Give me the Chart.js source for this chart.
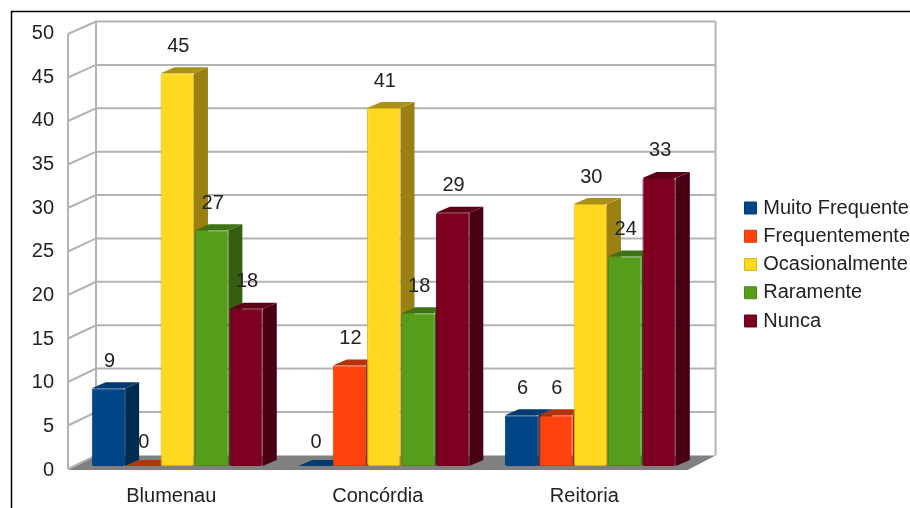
<!DOCTYPE html>
<html>
<head>
<meta charset="utf-8">
<style>
html, body { margin: 0; padding: 0; background: #fff; overflow: hidden; width: 910px; height: 508px; }
canvas { display: block; }
</style>
<script src="https://cdn.jsdelivr.net/npm/chart.js@4/dist/chart.umd.min.js"></script>
</head>
<body>
<canvas id="barChart" width="920" height="508"></canvas>
<script>
const categories = ['Blumenau', 'Concórdia', 'Reitoria'];
const muitoFrequente = [8.9, 0, 5.8];
const frequentemente = [0, 11.5, 5.8];
const ocasionalmente = [45, 41, 30];
const raramente = [27, 17.5, 24];
const nunca = [18, 29, 33];

const seriesNames = ['Muito Frequente', 'Frequentemente', 'Ocasionalmente', 'Raramente', 'Nunca'];
const seriesValues = [muitoFrequente, frequentemente, ocasionalmente, raramente, nunca];
const frontColors = ['#004586', '#ff420e', '#ffd820', '#579d1c', '#7e0021'];
const edgeColors = ['#003a70', '#d63a10', '#d9b41c', '#4a8618', '#6c001c'];
const topColors = ['#003a70', '#b5330a', '#ad9116', '#3f7214', '#5c0018'];
const sideColors = ['#002c52', '#8f2708', '#9a8012', '#345e10', '#4a0013'];

const textColor = '#222222';
const wallColor = '#b3b3b3';
const floorColor = '#808080';

// depth of a bar, and how far the back wall / front edge sit from the bars plane
const barDx = 14, barDy = 6;
const backDx = 22, backDy = 10.6, backShrink = 0.994;
const frontDx = -6, frontDy = -3, frontShrink = 0.9966;

const wallsPlugin = {
    id: 'walls',
    beforeDatasetsDraw(chart) {
        const ctx = chart.ctx;
        const y = chart.scales.y;
        const left = chart.chartArea.left;
        const right = chart.chartArea.right;
        const base = y.getPixelForValue(0);
        const backY = v => base - backDy - (base - y.getPixelForValue(v)) * backShrink;
        const frontY = v => base - frontDy - (base - y.getPixelForValue(v)) * frontShrink;

        // frame round the picture
        ctx.save();
        ctx.strokeStyle = '#000';
        ctx.lineWidth = 1.5;
        ctx.beginPath();
        ctx.moveTo(11.5, 508);
        ctx.lineTo(11.5, 11.5);
        ctx.lineTo(920, 11.5);
        ctx.stroke();

        const x0 = left + frontDx, x1 = left + backDx;
        const x2 = right + backDx, x3 = right + frontDx;

        ctx.fillStyle = floorColor;
        ctx.beginPath();
        ctx.moveTo(x0, frontY(0) + 1);
        ctx.lineTo(x1, backY(0));
        ctx.lineTo(x2, backY(0));
        ctx.lineTo(x3, frontY(0) + 1);
        ctx.closePath();
        ctx.fill();

        ctx.strokeStyle = wallColor;
        ctx.lineWidth = 2;
        y.ticks.forEach(t => {
            ctx.beginPath();
            ctx.moveTo(x0, frontY(t.value));
            ctx.lineTo(x1, backY(t.value));
            if (t.value > 0) ctx.lineTo(x2, backY(t.value));
            ctx.stroke();
        });
        ctx.beginPath();
        ctx.moveTo(x0, frontY(y.max));
        ctx.lineTo(x0, frontY(0));
        ctx.moveTo(x1, backY(y.max));
        ctx.lineTo(x1, backY(0));
        ctx.moveTo(x2, backY(y.max));
        ctx.lineTo(x2, backY(0));
        ctx.stroke();

        // top and side faces, the library draws the fronts over them
        chart.data.datasets.forEach((ds, i) => {
            chart.getDatasetMeta(i).data.forEach(bar => {
                const l = bar.x - bar.width / 2;
                const r = bar.x + bar.width / 2;
                ctx.fillStyle = sideColors[i];
                ctx.beginPath();
                ctx.moveTo(r, bar.y);
                ctx.lineTo(r + barDx, bar.y - barDy);
                ctx.lineTo(r + barDx, bar.base - barDy);
                ctx.lineTo(r, bar.base);
                ctx.closePath();
                ctx.fill();
                ctx.fillStyle = topColors[i];
                ctx.beginPath();
                ctx.moveTo(l, bar.y);
                ctx.lineTo(l + barDx, bar.y - barDy);
                ctx.lineTo(r + barDx, bar.y - barDy);
                ctx.lineTo(r, bar.y);
                ctx.closePath();
                ctx.fill();
            });
        });
        ctx.restore();
    },
    afterDatasetsDraw(chart) {
        const ctx = chart.ctx;
        ctx.save();
        ctx.fillStyle = textColor;
        ctx.font = '20px "Liberation Sans"';
        ctx.textAlign = 'center';
        ctx.textBaseline = 'middle';
        chart.data.datasets.forEach((ds, i) => {
            chart.getDatasetMeta(i).data.forEach((bar, j) => {
                const up = ds.data[j] === 0 ? 24 : 27;
                ctx.fillText(Math.round(ds.data[j]), bar.x + 1, bar.y - up);
            });
        });
        ctx.restore();
    }
};

new Chart(document.getElementById('barChart'), {
    type: 'bar',
    data: {
        labels: categories,
        datasets: seriesNames.map((name, i) => ({
            label: name,
            data: seriesValues[i],
            backgroundColor: frontColors[i],
            borderColor: edgeColors[i],
            borderWidth: 1,
            borderRadius: 2,
            borderSkipped: false,
            categoryPercentage: 0.833,
            barPercentage: 0.97
        }))
    },
    options: {
        responsive: false,
        animation: false,
        layout: { padding: { top: 21, bottom: 0, left: 0, right: 0 } },
        scales: {
            x: {
                grid: { display: false, drawTicks: false },
                border: { display: false },
                ticks: {
                    color: textColor,
                    font: { family: '"Liberation Sans"', size: 20 },
                    padding: 18,
                    labelOffset: -6,
                    maxRotation: 0,
                    autoSkip: false
                },
                afterFit: s => { s.height = 42; }
            },
            y: {
                min: 0,
                max: 50,
                grid: { display: false, drawTicks: false },
                border: { display: false },
                ticks: {
                    stepSize: 5,
                    color: textColor,
                    font: { family: '"Liberation Sans"', size: 20 },
                    padding: 20,
                    labelOffset: 4
                },
                afterFit: s => {
                    s.width = 74;
                    s.paddingTop = 0;
                    s.paddingBottom = 0;
                }
            },
            // these two only hold space: plot to legend, and above the plot
            gapRight: {
                type: 'linear',
                position: 'right',
                grid: { display: false, drawTicks: false },
                border: { display: false },
                ticks: { display: false },
                afterFit: s => { s.width = 46; }
            },
            gapTop: {
                type: 'linear',
                axis: 'x',
                position: 'top',
                grid: { display: false, drawTicks: false },
                border: { display: false },
                ticks: { display: false },
                afterFit: s => { s.height = 8.5; }
            }
        },
        plugins: {
            tooltip: { enabled: false },
            legend: {
                position: 'right',
                maxWidth: 220,
                labels: {
                    color: textColor,
                    font: { family: '"Liberation Sans"', size: 20 },
                    usePointStyle: true,
                    pointStyle: 'rect',
                    boxWidth: 5.4,
                    boxHeight: 12,
                    padding: 8.25
                }
            }
        }
    },
    plugins: [wallsPlugin]
});
</script>
</body>
</html>
